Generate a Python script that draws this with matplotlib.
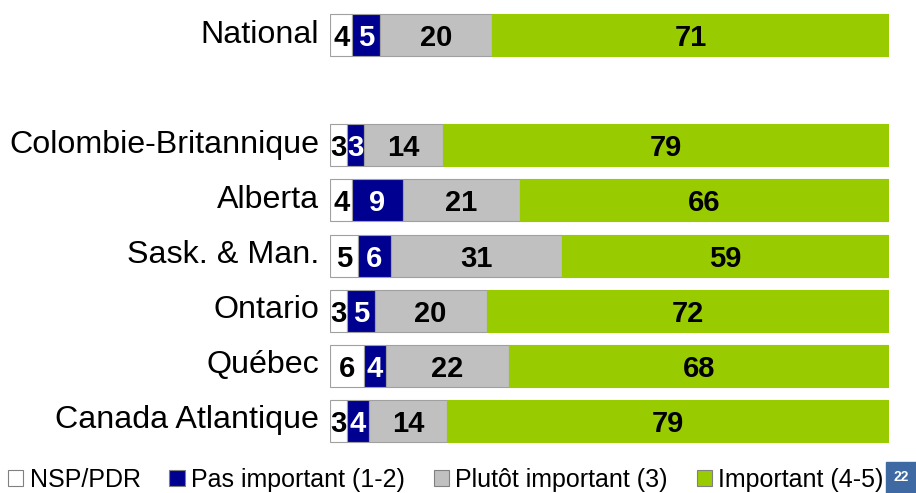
import matplotlib
matplotlib.use("Agg")
import matplotlib.pyplot as plt
from matplotlib.patches import Patch, Rectangle
from matplotlib.transforms import ScaledTranslation
import numpy as np

plt.rcParams["font.family"] = ["Liberation Sans", "DejaVu Sans"]

# data
regions = ["National", "", "Colombie-Britannique", "Alberta", "Sask. & Man.",
           "Ontario", "Québec", "Canada Atlantique"]
nsp = [4, None, 3, 4, 5, 3, 6, 3]
pas_important = [5, None, 3, 9, 6, 5, 4, 4]
plutot_important = [20, None, 14, 21, 31, 20, 22, 14]
important = [71, None, 79, 66, 59, 72, 68, 79]

series_names = ["NSP/PDR", "Pas important (1-2)", "Plutôt important (3)", "Important (4-5)"]
colors = ["#ffffff", "#000090", "#c0c0c0", "#99cc00"]
edge_colors = ["#a0a0a0", "#a0a0a0", "#a0a0a0", "#99cc00"]
text_colors = ["black", "white", "black", "black"]
page_number = "22"

fig = plt.figure(figsize=(9.16, 4.93), dpi=100)
ax = fig.add_axes([330 / 916, 1 - 448.5 / 493, 559 / 916, 441 / 493])

series = [nsp, pas_important, plutot_important, important]
y = np.arange(len(regions))
for i, name in enumerate(regions):
    if nsp[i] is None:
        continue
    vals = [s[i] for s in series]
    total = sum(vals)
    left = 0.0
    for k, v in enumerate(vals):
        w = v / total * 100
        ax.barh(y[i], w, left=left, height=0.76, color=colors[k],
                edgecolor=edge_colors[k], linewidth=0.8)
        ax.text(left + w / 2, y[i], str(v), ha="center", va="center_baseline",
                fontsize=21, fontweight="bold", color=text_colors[k])
        left += w

ax.set_xlim(0, 100)
ax.set_ylim(len(regions) - 0.5, -0.5)
ax.set_yticks(y)
ax.set_yticklabels(regions, fontsize=23.2)
ax.tick_params(axis="y", length=0, pad=8)
# labels sit a little above the bar centre in the original
shift = ScaledTranslation(0, 0.04, fig.dpi_scale_trans)
for lbl in ax.get_yticklabels():
    lbl.set_transform(lbl.get_transform() + shift)
ax.set_xticks([])
for sp in ax.spines.values():
    sp.set_visible(False)

handles = [Patch(facecolor=c, edgecolor="#808080", linewidth=0.8) for c in colors]
fig.legend(handles, series_names, loc="lower left", bbox_to_anchor=(-0.016, -0.043),
           ncol=4, frameon=False, fontsize=18, handlelength=0.62, handleheight=0.62,
           handletextpad=0.25, columnspacing=1.15)

fig.patches.append(Rectangle((886 / 916, 0), 30 / 916, 31 / 493,
                             transform=fig.transFigure, color="#3f69a3"))
fig.text(901 / 916, 1 - 477 / 493, page_number, ha="center", va="center",
         color="white", fontsize=10, fontweight="bold")

fig.savefig("out.png", dpi=100)
